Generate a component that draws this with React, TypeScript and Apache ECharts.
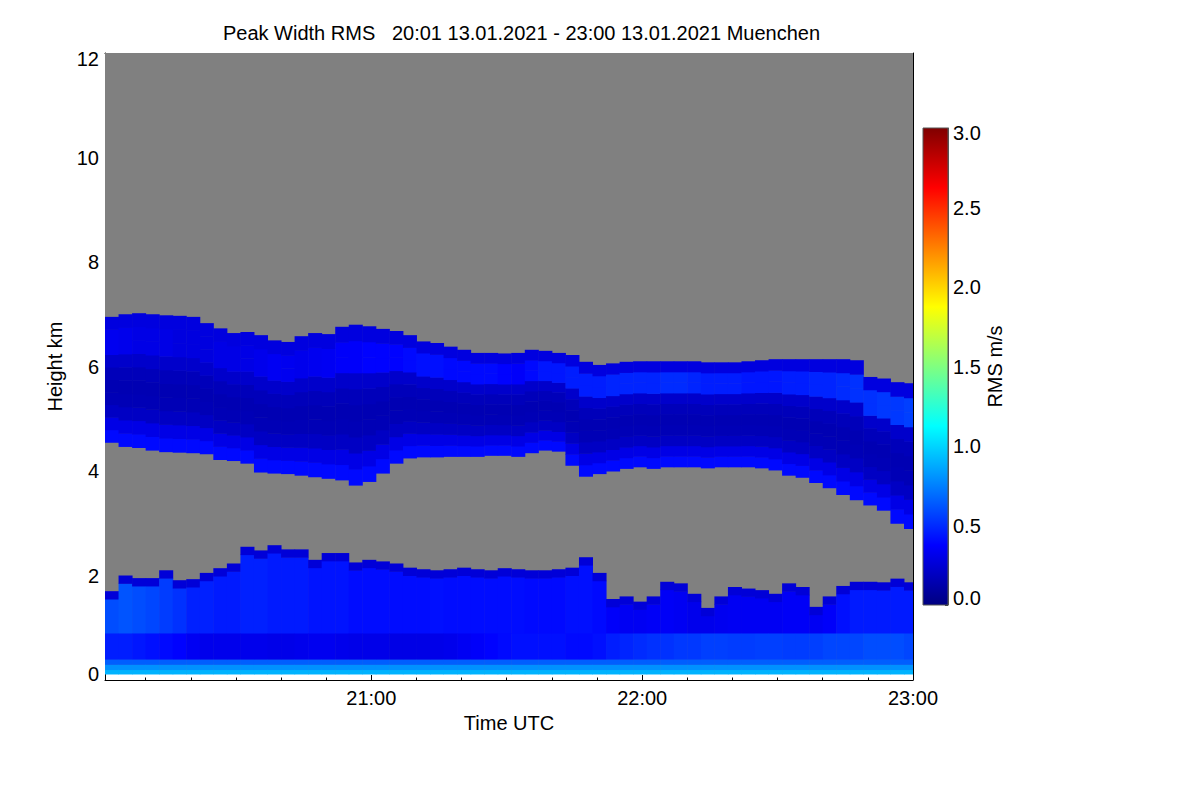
import React, { useEffect, useRef } from 'react';
import * as echarts from 'echarts';

const FONT = '"Liberation Sans", Arial, Helvetica, sans-serif';

const titleText = 'Peak Width RMS   20:01 13.01.2021 - 23:00 13.01.2021 Muenchen';

// time in minutes after 20:00 UTC
const timeStart = 1;
const timeEnd = 180;
const columnMinutes = 3;
const hourTickValues = [60, 120, 180];
const hourTickLabels = ['21:00', '22:00', '23:00'];
const tenMinuteTicks = [10, 20, 30, 40, 50, 60, 70, 80, 90, 100, 110, 120, 130, 140, 150, 160, 170, 180];

const heightMin = 0;
const heightMax = 12;
const heightStep = 2;
const firstGateKm = 0.115;

const rmsMin = 0;
const rmsMax = 3;
const rmsStep = 0.5;

// upper cloud layer (km), one value per 3-minute column starting 20:01
const upperTop = [
  6.95, 7.0, 7.02, 7.0, 6.98, 6.97, 6.95, 6.83, 6.73, 6.64,
  6.66, 6.6, 6.5, 6.47, 6.58, 6.64, 6.62, 6.76, 6.8, 6.77,
  6.72, 6.68, 6.6, 6.48, 6.45, 6.38, 6.32, 6.26, 6.26, 6.25,
  6.26, 6.32, 6.3, 6.26, 6.22, 6.09, 6.03, 6.06, 6.09, 6.1,
  6.1, 6.1, 6.1, 6.1, 6.08, 6.08, 6.08, 6.1, 6.12, 6.14,
  6.14, 6.14, 6.14, 6.14, 6.14, 6.12, 5.8, 5.77, 5.7, 5.68,
];
const upperBase = [
  4.55, 4.47, 4.45, 4.4, 4.37, 4.36, 4.35, 4.33, 4.22, 4.2,
  4.15, 3.98, 3.96, 3.95, 3.92, 3.89, 3.86, 3.83, 3.73, 3.8,
  3.96, 4.15, 4.25, 4.27, 4.27, 4.28, 4.28, 4.28, 4.3, 4.3,
  4.28, 4.35, 4.4, 4.38, 4.11, 3.9, 3.95, 4.0, 4.05, 4.08,
  4.05, 4.08, 4.08, 4.08, 4.06, 4.08, 4.08, 4.08, 4.06, 4.02,
  3.92, 3.88, 3.78, 3.68, 3.55, 3.45, 3.35, 3.25, 3.0, 2.9,
];
// lower (boundary layer) top (km)
const lowerTop = [
  1.7, 2.0, 1.95, 1.95, 2.1, 1.91, 1.93, 2.05, 2.14, 2.23,
  2.55, 2.48, 2.58, 2.5, 2.5, 2.3, 2.43, 2.43, 2.25, 2.3,
  2.27, 2.23, 2.15, 2.12, 2.1, 2.12, 2.15, 2.12, 2.1, 2.14,
  2.12, 2.1, 2.1, 2.12, 2.15, 2.35, 2.05, 1.55, 1.6, 1.5,
  1.6, 1.88, 1.85, 1.65, 1.38, 1.6, 1.78, 1.75, 1.72, 1.65,
  1.85, 1.78, 1.4, 1.6, 1.8, 1.88, 1.88, 1.87, 1.94, 1.87,
];

// RMS (m/s) inside the upper layer: ten slices from base to top
const upperSliceRms = [0.4, 0.3, 0.2, 0.16, 0.15, 0.17, 0.22];
const upperUpperRms = [
  0.33, 0.32, 0.3, 0.3, 0.3, 0.28, 0.28, 0.28, 0.3, 0.3,
  0.3, 0.32, 0.34, 0.33, 0.32, 0.33, 0.34, 0.36, 0.36, 0.38,
  0.38, 0.38, 0.4, 0.42, 0.42, 0.4, 0.4, 0.4, 0.4, 0.38,
  0.36, 0.4, 0.44, 0.44, 0.46, 0.46, 0.46, 0.48, 0.48, 0.48,
  0.48, 0.5, 0.5, 0.48, 0.46, 0.46, 0.46, 0.44, 0.44, 0.44,
  0.46, 0.46, 0.48, 0.48, 0.5, 0.52, 0.52, 0.54, 0.54, 0.56,
];
const upperEdgeRms = 0.28;

// RMS inside the lower layer
const lowerGroundEdges = [0.115, 0.2, 0.3, 0.4];
const lowerGroundRms = [0.9, 0.8, 0.65];
const lowerMidTop = 0.9;
const lowerMidRms = [
  0.46, 0.46, 0.44, 0.42, 0.4, 0.38, 0.34, 0.32, 0.32, 0.32,
  0.32, 0.32, 0.31, 0.31, 0.32, 0.33, 0.33, 0.32, 0.31, 0.31,
  0.31, 0.3, 0.3, 0.3, 0.31, 0.32, 0.34, 0.36, 0.38, 0.4,
  0.42, 0.42, 0.42, 0.42, 0.4, 0.4, 0.42, 0.46, 0.48, 0.5,
  0.52, 0.52, 0.54, 0.54, 0.56, 0.56, 0.55, 0.55, 0.56, 0.56,
  0.55, 0.55, 0.56, 0.58, 0.58, 0.58, 0.6, 0.6, 0.6, 0.58,
];
const lowerUpperRms = [
  0.6, 0.62, 0.6, 0.58, 0.55, 0.52, 0.47, 0.47, 0.45, 0.45,
  0.47, 0.47, 0.45, 0.45, 0.45, 0.43, 0.43, 0.43, 0.41, 0.41,
  0.41, 0.41, 0.41, 0.41, 0.42, 0.41, 0.41, 0.41, 0.41, 0.41,
  0.41, 0.4, 0.4, 0.4, 0.42, 0.42, 0.4, 0.36, 0.34, 0.34,
  0.35, 0.35, 0.34, 0.32, 0.32, 0.33, 0.34, 0.34, 0.34, 0.34,
  0.35, 0.35, 0.34, 0.36, 0.42, 0.45, 0.45, 0.45, 0.45, 0.45,
];
const lowerEdgeDepth = 0.15;
const lowerEdgeRms = 0.26;

const jetColors = ['#000080', '#0000ff', '#0080ff', '#00ffff', '#80ff80', '#ffff00', '#ff8000', '#ff0000', '#800000'];

function buildCells(): number[][] {
  const cells: number[][] = [];
  const push = (x0: number, x1: number, lo: number, hi: number, v: number) => {
    if (hi > lo) cells.push([x0, x1, lo, hi, v]);
  };
  for (let c = 0; c < upperTop.length; c++) {
    const x0 = timeStart + c * columnMinutes;
    const x1 = Math.min(timeEnd, x0 + columnMinutes);
    const lt = lowerTop[c];
    const edgeLo = lt - lowerEdgeDepth;
    for (let b = 0; b < lowerGroundRms.length; b++) {
      push(x0, x1, lowerGroundEdges[b], Math.min(lowerGroundEdges[b + 1], edgeLo), lowerGroundRms[b]);
    }
    const gTop = lowerGroundEdges[lowerGroundEdges.length - 1];
    push(x0, x1, gTop, Math.min(lowerMidTop, edgeLo), lowerMidRms[c]);
    push(x0, x1, lowerMidTop, edgeLo, lowerUpperRms[c]);
    push(x0, x1, edgeLo, lt, lowerEdgeRms);

    const ub = upperBase[c];
    const ut = upperTop[c];
    const n = 10;
    const th = (ut - ub) / n;
    for (let b = 0; b < n; b++) {
      const v = b < upperSliceRms.length ? upperSliceRms[b] : b < n - 1 ? upperUpperRms[c] : upperEdgeRms;
      push(x0, x1, ub + b * th, ub + (b + 1) * th, v);
    }
  }
  return cells;
}

const black = { color: '#000', width: 1 };
const labelFont = { fontFamily: FONT, fontSize: 20, color: '#000' };

function buildOption(): any {
  const cells = buildCells();
  const yFmt = (v: number) => (v === heightMin ? '{lo|' + v + '}' : v === heightMax ? '{hi|' + v + '}' : String(v));
  const cFmt = (v: number) => {
    const s = v.toFixed(1);
    return v === rmsMin ? '{lo|' + s + '}' : v === rmsMax ? '{hi|' + s + '}' : s;
  };
  const xBase = {
    type: 'value',
    gridIndex: 0,
    min: timeStart,
    max: timeEnd,
    splitLine: { show: false },
  };
  return {
    animation: false,
    backgroundColor: '#ffffff',
    graphic: [
      {
        type: 'text',
        x: 521.5,
        y: 33,
        style: { text: titleText, font: '20px ' + FONT, fill: '#000', align: 'center', verticalAlign: 'middle' },
      },
    ],
    grid: [
      { left: 105, top: 53, width: 808, height: 627, show: false },
      { left: 923, top: 128, width: 25, height: 477, show: false },
    ],
    xAxis: [
      {
        ...xBase,
        position: 'bottom',
        axisLine: { show: true, onZero: false, lineStyle: black },
        axisTick: { show: true, inside: true, length: 5, customValues: hourTickValues, lineStyle: black },
        axisLabel: {
          show: true,
          customValues: hourTickValues,
          margin: 8,
          ...labelFont,
          formatter: (v: number) => {
            const i = hourTickValues.indexOf(v);
            return i >= 0 ? hourTickLabels[i] : '';
          },
        },
        name: 'Time UTC',
        nameLocation: 'middle',
        nameGap: 25,
        nameTextStyle: labelFont,
      },
      {
        ...xBase,
        position: 'bottom',
        axisLine: { show: false, onZero: false },
        axisTick: { show: true, inside: true, length: 2.5, customValues: tenMinuteTicks, lineStyle: black },
        axisLabel: { show: false },
      },
      {
        ...xBase,
        position: 'top',
        axisLine: { show: true, onZero: false, lineStyle: black },
        axisTick: { show: true, inside: true, length: 5, customValues: hourTickValues, lineStyle: black },
        axisLabel: { show: false },
      },
      {
        ...xBase,
        position: 'top',
        axisLine: { show: false, onZero: false },
        axisTick: { show: true, inside: true, length: 2.5, customValues: tenMinuteTicks, lineStyle: black },
        axisLabel: { show: false },
      },
      { type: 'value', gridIndex: 1, min: 0, max: 1, show: false },
    ],
    yAxis: [
      {
        type: 'value',
        gridIndex: 0,
        position: 'left',
        min: heightMin,
        max: heightMax,
        interval: heightStep,
        splitLine: { show: false },
        axisLine: { show: true, onZero: false, lineStyle: black },
        axisTick: { show: true, inside: true, length: 6, lineStyle: black },
        minorTick: { show: true, splitNumber: 4, length: 3, lineStyle: black },
        axisLabel: {
          margin: 6,
          ...labelFont,
          formatter: yFmt,
          rich: {
            lo: { ...labelFont, padding: [0, 0, 12, 0] },
            hi: { ...labelFont, padding: [12, 0, 0, 0] },
          },
        },
        name: 'Height km',
        nameLocation: 'middle',
        nameGap: 40,
        nameTextStyle: labelFont,
      },
      {
        type: 'value',
        gridIndex: 0,
        position: 'right',
        min: heightMin,
        max: heightMax,
        interval: heightStep,
        splitLine: { show: false },
        axisLine: { show: true, onZero: false, lineStyle: black },
        axisTick: { show: true, inside: true, length: 6, lineStyle: black },
        minorTick: { show: true, splitNumber: 4, length: 6, lineStyle: black },
        axisLabel: { show: false },
      },
      {
        type: 'value',
        gridIndex: 1,
        position: 'right',
        min: rmsMin,
        max: rmsMax,
        interval: rmsStep,
        splitLine: { show: false },
        axisLine: { show: true, onZero: false, lineStyle: { color: '#555', width: 1 } },
        axisTick: { show: true, inside: true, length: 3, lineStyle: { color: '#333', width: 1 } },
        minorTick: { show: true, splitNumber: 5, length: 2.5, lineStyle: { color: '#333', width: 1 } },
        axisLabel: {
          margin: 5,
          ...labelFont,
          formatter: cFmt,
          rich: {
            lo: { ...labelFont, padding: [0, 0, 15, 0] },
            hi: { ...labelFont, padding: [10, 0, 0, 0] },
          },
        },
        name: 'RMS m/s',
        nameLocation: 'middle',
        nameGap: 35,
        nameTextStyle: labelFont,
      },
    ],
    visualMap: {
      type: 'continuous',
      show: false,
      min: rmsMin,
      max: rmsMax,
      dimension: 4,
      seriesIndex: 1,
      inRange: { color: jetColors },
    },
    series: [
      {
        type: 'custom',
        name: 'background',
        xAxisIndex: 0,
        yAxisIndex: 0,
        clip: true,
        silent: true,
        data: [[timeStart, timeEnd, firstGateKm, heightMax]],
        encode: { x: [0, 1], y: [2, 3] },
        renderItem: (_p: any, api: any) => {
          const a = api.coord([api.value(0), api.value(3)]);
          const b = api.coord([api.value(1), api.value(2)]);
          return {
            type: 'rect',
            shape: { x: a[0], y: a[1], width: b[0] - a[0], height: b[1] - a[1] },
            style: { fill: '#808080' },
          };
        },
      },
      {
        type: 'custom',
        name: 'Peak Width RMS',
        xAxisIndex: 0,
        yAxisIndex: 0,
        clip: true,
        silent: true,
        dimensions: ['t0', 't1', 'h0', 'h1', 'rms'],
        data: cells,
        encode: { x: [0, 1], y: [2, 3] },
        renderItem: (_p: any, api: any) => {
          const a = api.coord([api.value(0), api.value(3)]);
          const b = api.coord([api.value(1), api.value(2)]);
          return {
            type: 'rect',
            shape: { x: a[0], y: a[1], width: b[0] - a[0] + 0.5, height: b[1] - a[1] + 0.5 },
            style: { fill: api.visual('color') },
          };
        },
      },
      {
        type: 'custom',
        name: 'colorbar',
        xAxisIndex: 4,
        yAxisIndex: 2,
        silent: true,
        data: [[0, 1, rmsMin, rmsMax]],
        encode: { x: [0, 1], y: [2, 3] },
        renderItem: (_p: any, api: any) => {
          const a = api.coord([api.value(0), api.value(3)]);
          const b = api.coord([api.value(1), api.value(2)]);
          const stops = jetColors.map((c, i) => ({ offset: i / (jetColors.length - 1), color: c }));
          return {
            type: 'rect',
            shape: { x: a[0], y: a[1], width: b[0] - a[0], height: b[1] - a[1] },
            style: { fill: new echarts.graphic.LinearGradient(0, 1, 0, 0, stops), stroke: '#555', lineWidth: 1 },
          };
        },
      },
    ],
  };
}

export default function App() {
  const ref = useRef<HTMLDivElement>(null);
  useEffect(() => {
    if (!ref.current) return;
    const chart = echarts.init(ref.current, null, { renderer: 'svg' });
    chart.setOption(buildOption());
    return () => chart.dispose();
  }, []);
  return <div ref={ref} style={{ position: 'absolute', left: 0, top: 0, width: 1200, height: 800 }} />;
}
